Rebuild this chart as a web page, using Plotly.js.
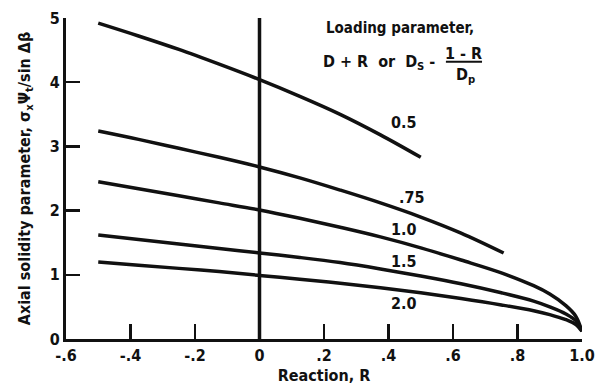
<!DOCTYPE html>
<html>
<head>
<meta charset="utf-8">
<script src="https://cdn.plot.ly/plotly-3.0.1.min.js"></script>
<style>
  html, body { margin: 0; padding: 0; background: #fff; }
  #chart { width: 597px; height: 386px; }
</style>
</head>
<body>
<div id="chart"></div>
<script>
// Axial solidity parameter versus reaction, one curve per loading parameter.
const loadingLabels = ["0.5", ".75", "1.0", "1.5", "2.0"];

const reaction05 = [-0.5, -0.375, -0.25, -0.125, 0, 0.125, 0.25, 0.375, 0.5];
const solidity05 = [4.92, 4.72, 4.51, 4.28, 4.04, 3.78, 3.50, 3.18, 2.83];

const reaction075 = [-0.5, -0.375, -0.25, -0.125, 0, 0.125, 0.25, 0.375, 0.5, 0.625, 0.757];
const solidity075 = [3.24, 3.11, 2.97, 2.83, 2.68, 2.51, 2.32, 2.12, 1.90, 1.65, 1.34];

const reaction10 = [-0.5, -0.375, -0.25, -0.125, 0, 0.125, 0.25, 0.375, 0.5, 0.625, 0.75, 0.85, 0.9, 0.95, 0.98, 1.0];
const solidity10 = [2.45, 2.34, 2.23, 2.12, 2.01, 1.88, 1.74, 1.59, 1.42, 1.23, 1.03, 0.83, 0.70, 0.52, 0.36, 0.12];

const reaction15 = [-0.5, -0.375, -0.25, -0.125, 0, 0.125, 0.25, 0.375, 0.5, 0.625, 0.75, 0.85, 0.9, 0.95, 0.98, 1.0];
const solidity15 = [1.62, 1.55, 1.48, 1.41, 1.34, 1.27, 1.19, 1.09, 0.98, 0.86, 0.72, 0.59, 0.50, 0.39, 0.29, 0.12];

const reaction20 = [-0.5, -0.375, -0.25, -0.125, 0, 0.125, 0.25, 0.375, 0.5, 0.625, 0.75, 0.85, 0.9, 0.95, 0.98, 1.0];
const solidity20 = [1.20, 1.15, 1.10, 1.05, 0.99, 0.93, 0.87, 0.80, 0.72, 0.63, 0.53, 0.44, 0.38, 0.30, 0.23, 0.12];

// Curve label anchors (reaction, solidity)
const labelR = [0.447, 0.474, 0.447, 0.447, 0.447];
const labelS = [3.38, 2.20, 1.70, 1.20, 0.56];

const xTickVals = [-0.6, -0.4, -0.2, 0, 0.2, 0.4, 0.6, 0.8, 1.0];
const xTickText = ["-.6", "-.4", "-.2", "0", ".2", ".4", ".6", ".8", "1.0"];
const yTickVals = [0, 1, 2, 3, 4, 5];
const yTickText = ["0", "1", "2", "3", "4", "5"];

const zeroReaction = 0;

const FONT = "DejaVu Sans Condensed, Liberation Sans Narrow, Arial Narrow, sans-serif";
const INK = "#111";

const seriesR = [reaction05, reaction075, reaction10, reaction15, reaction20];
const seriesS = [solidity05, solidity075, solidity10, solidity15, solidity20];

const traces = seriesR.map((r, i) => ({
  x: r,
  y: seriesS[i],
  type: "scatter",
  mode: "lines",
  name: loadingLabels[i],
  line: { color: INK, width: 3.5, shape: "spline", smoothing: 1 },
  hoverinfo: "skip",
  showlegend: false
}));

const curveLabels = loadingLabels.map((t, i) => ({
  x: labelR[i], y: labelS[i], xref: "x", yref: "y",
  text: t, showarrow: false,
  font: { family: FONT, size: 16, color: INK, weight: "bold" }
}));

const headerFont = { family: FONT, size: 15, color: INK, weight: "bold" };
const exprFont = { family: FONT, size: 16, color: INK, weight: "bold" };

const headerNotes = [
  { x: 0.437, y: 4.84, text: "Loading parameter,", xanchor: "center", font: headerFont },
  { x: 0.551, y: 4.30, text: "D + R  or  D<sub>S</sub> -", xanchor: "right", font: exprFont },
  { x: 0.633, y: 4.44, text: "1 - R", xanchor: "center", font: exprFont },
  { x: 0.639, y: 4.10, text: "D<sub>p</sub>", xanchor: "center", font: exprFont }
].map(a => Object.assign({ xref: "x", yref: "y", showarrow: false }, a));

const layout = {
  width: 597,
  height: 386,
  margin: { l: 66, r: 15, t: 18, b: 47 },
  paper_bgcolor: "#fff",
  plot_bgcolor: "#fff",
  font: { family: FONT, color: INK, size: 16, weight: "bold" },
  xaxis: {
    range: [-0.6, 1.0],
    tickvals: xTickVals,
    ticktext: xTickText,
    ticks: "inside",
    ticklen: 15,
    tickwidth: 2.5,
    tickcolor: INK,
    showline: true,
    linewidth: 3,
    linecolor: INK,
    showgrid: false,
    zeroline: false,
    tickfont: { family: FONT, size: 16, color: INK, weight: "bold" },
    title: { text: "Reaction, R", font: { family: FONT, size: 16, color: INK, weight: "bold" }, standoff: 6 }
  },
  yaxis: {
    range: [0, 5],
    tickvals: yTickVals,
    ticktext: yTickText,
    ticks: "inside",
    ticklen: 14,
    tickwidth: 2.5,
    tickcolor: INK,
    showline: true,
    linewidth: 3,
    linecolor: INK,
    showgrid: false,
    zeroline: false,
    tickfont: { family: FONT, size: 16, color: INK, weight: "bold" },
    title: {
      text: "Axial solidity parameter, σ<sub>x</sub>Ψ<sub>t</sub>/sin Δβ",
      font: { family: FONT, size: 16, color: INK, weight: "bold" },
      standoff: 16
    }
  },
  shapes: [
    { type: "line", xref: "x", yref: "y", x0: zeroReaction, x1: zeroReaction, y0: 0, y1: 5,
      line: { color: INK, width: 3.5 } },
    // fraction bar of the loading-parameter expression
    { type: "line", xref: "x", yref: "y", x0: 0.578, x1: 0.69, y0: 4.32, y1: 4.32,
      line: { color: INK, width: 2 } }
  ],
  annotations: curveLabels.concat(headerNotes)
};

Plotly.newPlot("chart", traces, layout, { staticPlot: true, displayModeBar: false });
</script>
</body>
</html>
